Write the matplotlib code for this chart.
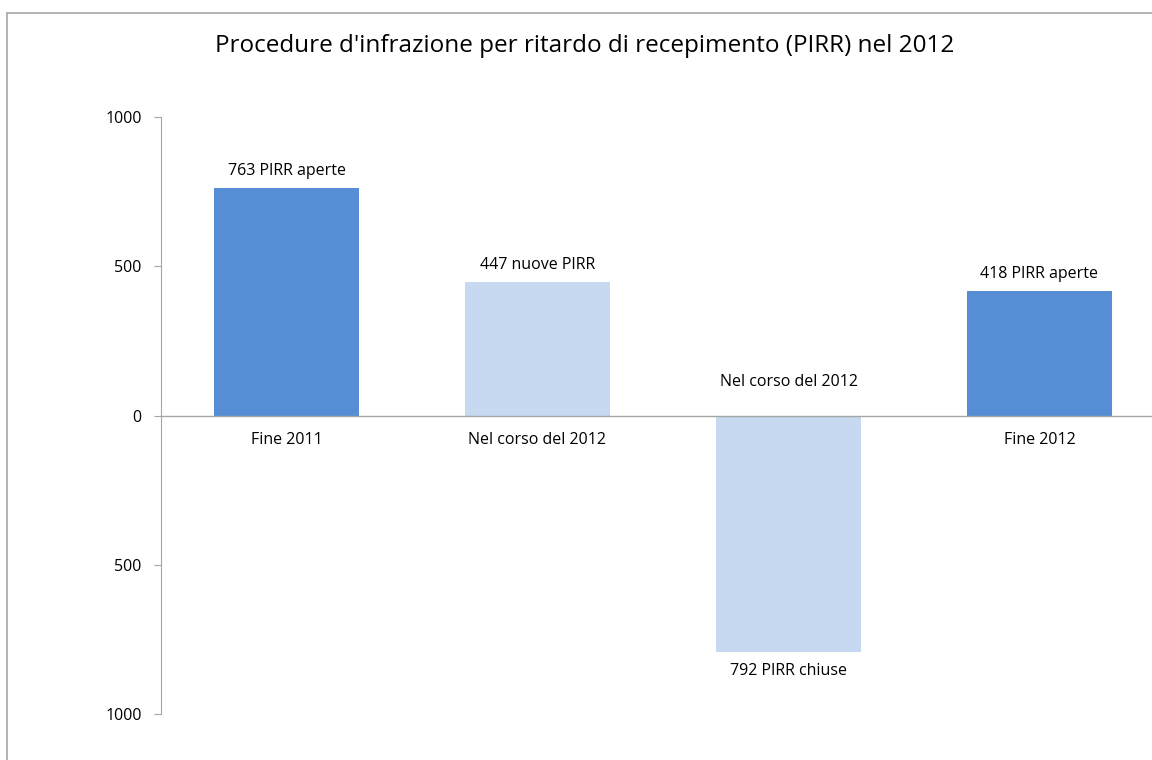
import matplotlib.pyplot as plt
from matplotlib.patches import Rectangle
from matplotlib.ticker import FuncFormatter

plt.rcParams['font.family'] = ['Open Sans', 'DejaVu Sans']

categories = ['Fine 2011', 'Nel corso del 2012', 'Nel corso del 2012', 'Fine 2012']
values = [763, 447, -792, 418]
value_labels = ['763 PIRR aperte', '447 nuove PIRR', '792 PIRR chiuse', '418 PIRR aperte']
colors = ['#558ED5', '#C6D9F1', '#C6D9F1', '#558ED5']
title = "Procedure d'infrazione per ritardo di recepimento (PIRR) nel 2012"

fig = plt.figure(figsize=(11.52, 7.6), dpi=100)
# outer chart border (right/bottom edges run off the picture)
fig.patches.append(Rectangle((7 / 1152, -0.1), 1.2, 0.1 + (760 - 13) / 760,
                             transform=fig.transFigure, fill=False,
                             edgecolor='#A6A6A6', linewidth=1.2))

ax = fig.add_axes([161 / 1152, 1 - 714 / 760, (1165 - 161) / 1152, (714 - 117) / 760])
x = range(len(values))
ax.bar(x, values, width=0.575, color=colors)
ax.set_xlim(-0.5, 3.5)
ax.set_ylim(-1000, 1000)
ax.set_yticks([-1000, -500, 0, 500, 1000])
ax.yaxis.set_major_formatter(FuncFormatter(lambda v, p: '%d' % abs(v)))
ax.tick_params(axis='y', length=5, color='#A6A6A6', labelsize=11.5, pad=9)
ax.set_xticks([])
for s in ['top', 'right', 'bottom']:
    ax.spines[s].set_visible(False)
ax.spines['left'].set_color('#A6A6A6')
ax.axhline(0, color='#A6A6A6', linewidth=1, clip_on=False)

fs = 11.5
for i, v in enumerate(values):
    if v >= 0:
        ax.annotate(value_labels[i], (i, v), xytext=(0, 12), textcoords='offset points',
                    ha='center', va='center', fontsize=fs)
        ax.annotate(categories[i], (i, 0), xytext=(0, -18), textcoords='offset points',
                    ha='center', va='center', fontsize=fs)
    else:
        ax.annotate(value_labels[i], (i, v), xytext=(0, -14), textcoords='offset points',
                    ha='center', va='center', fontsize=fs)
        ax.annotate(categories[i], (i, 0), xytext=(0, 24), textcoords='offset points',
                    ha='center', va='center', fontsize=fs)

fig.text(585 / 1152, 1 - 46 / 760, title, ha='center', va='center', fontsize=17.5)

fig.savefig('out.png', dpi=100)
